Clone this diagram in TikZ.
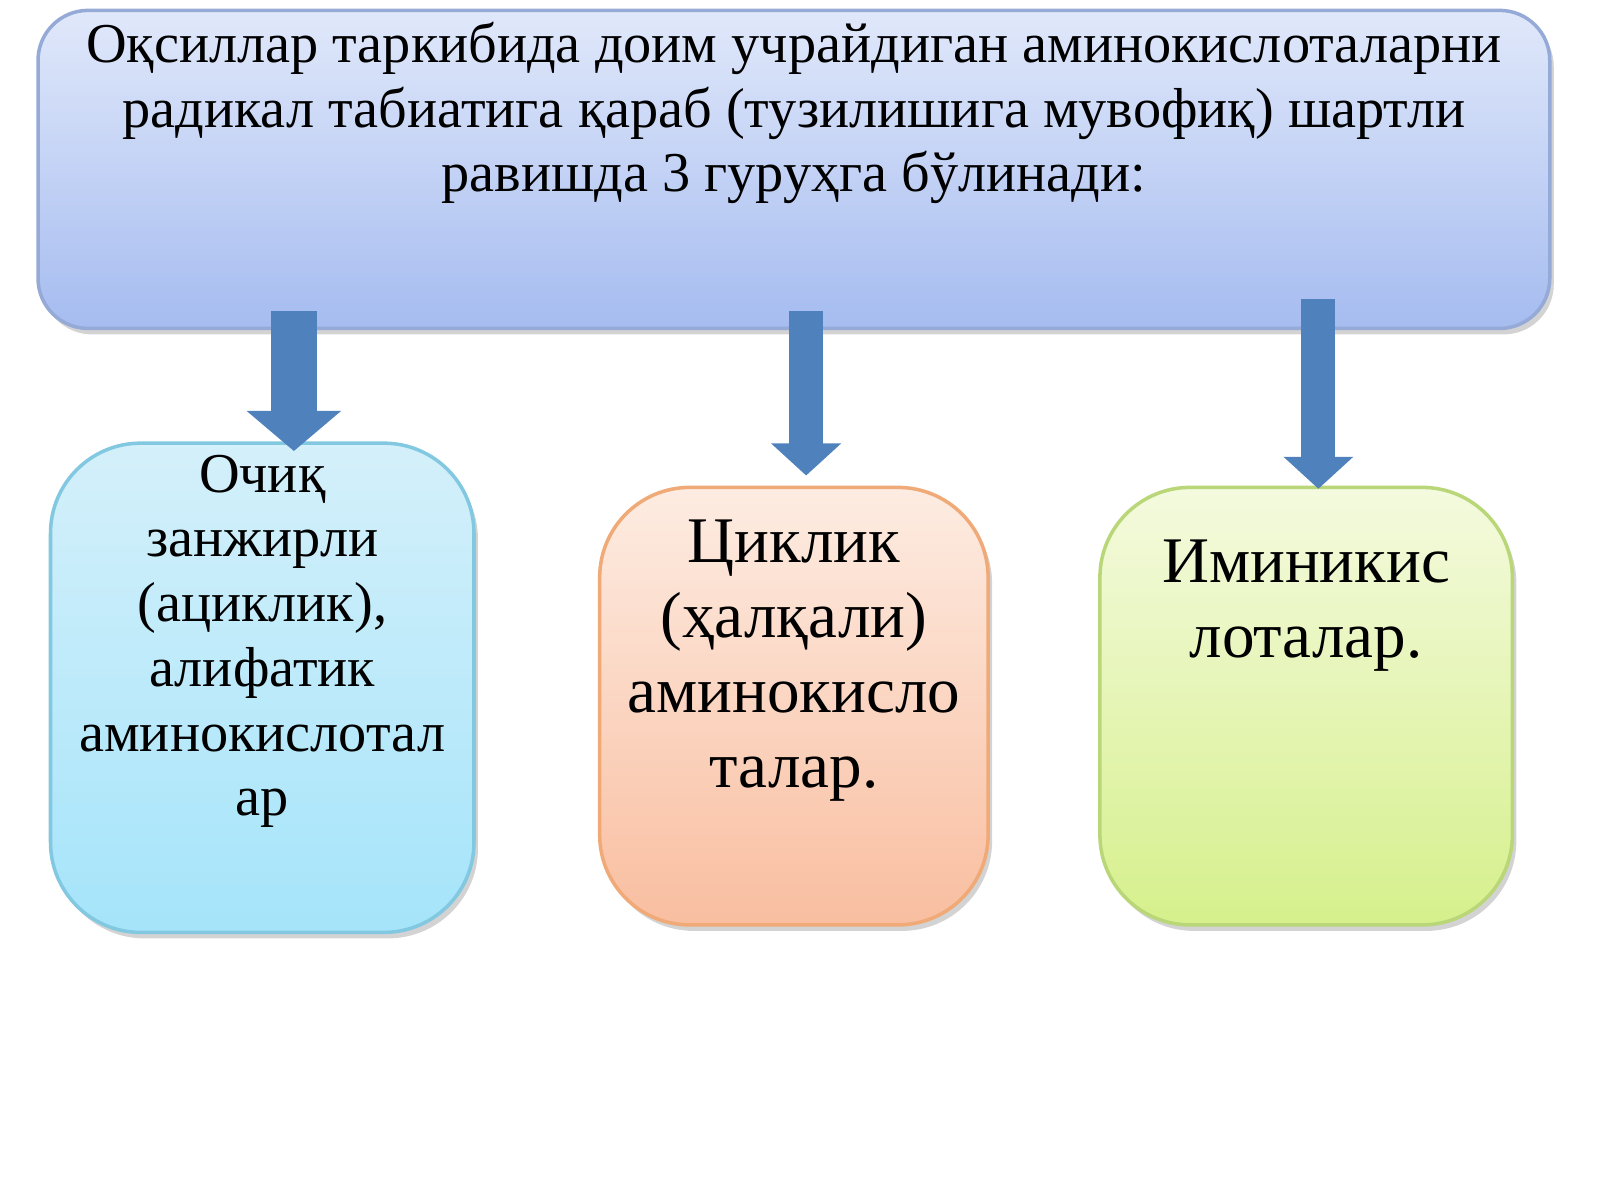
\documentclass[tikz,border=0pt]{standalone}
\usepackage{fontspec}
\setmainfont{Liberation Serif}
\usetikzlibrary{shapes,arrows.meta,positioning,calc,shadows}
\tikzstyle{groupbox} = [rectangle, rounded corners=0.9cm, align=center, line width=1pt, drop shadow={opacity=0.35,shadow xshift=0.04cm,shadow yshift=-0.06cm}]
\tikzstyle{arrow} = [line width=0.46cm, draw={rgb,255:red,79;green,129;blue,189}, -{Triangle[width=0.92cm,length=0.4cm]}]
\begin{document}
\begin{tikzpicture}[x=0.0102cm, y=-0.0102cm]
    \useasboundingbox (0,0) rectangle (1568,1176);
    % Nodes
    \node (title) [groupbox, rounded corners=0.5cm, minimum width=15.1cm, minimum height=2.37cm, top color={rgb,255:red,224;green,232;blue,250}, bottom color={rgb,255:red,166;green,188;blue,240}, draw={rgb,255:red,150;green,170;blue,215}, font=\fontsize{16}{18.4}\selectfont] at (778,166) {Оқсиллар таркибида доим учрайдиган аминокислоталарни\\радикал табиатига қараб (тузилишига мувофиқ) шартли\\равишда 3 гуруҳга бўлинади:\\[0.6cm]};
    \node (open) [groupbox, minimum width=4.23cm, minimum height=4.47cm, top color={rgb,255:red,212;green,240;blue,250}, bottom color={rgb,255:red,165;green,228;blue,250}, draw={rgb,255:red,130;green,200;blue,225}, font=\fontsize{16}{18.4}\selectfont] at (257,674) {Очиқ\\занжирли\\(ациклик),\\алифатик\\аминокислотал\\ар\\[0.4cm]};
    \node (cyclic) [groupbox, minimum width=3.88cm, minimum height=4.37cm, top color={rgb,255:red,253;green,236;blue,226}, bottom color={rgb,255:red,249;green,190;blue,160}, draw={rgb,255:red,240;green,170;blue,120}, font=\fontsize{18.5}{21.3}\selectfont] at (778,692) {Циклик\\(ҳалқали)\\аминокисло\\талар.\\[0.3cm]};
    \node (imino) [groupbox, minimum width=4.12cm, minimum height=4.37cm, top color={rgb,255:red,244;green,250;blue,222}, bottom color={rgb,255:red,214;green,240;blue,140}, draw={rgb,255:red,185;green,215;blue,120}, font=\fontsize{18.5}{21.3}\selectfont] at (1280,692) {Иминикис\\лоталар.\\[1.4cm]};

    % Arrows
    \coordinate (a1) at (288,305);
    \coordinate (b1) at (288,442);
    \coordinate (a2) at (790,305);
    \coordinate (b2) at (790,466);
    \coordinate (a3) at (1292,293);
    \coordinate (b3) at (1292,479);
    \draw [arrow] (a1) -- (b1);
    \draw [arrow, line width=0.34cm, -{Triangle[width=0.68cm,length=0.32cm]}] (a2) -- (b2);
    \draw [arrow, line width=0.34cm, -{Triangle[width=0.68cm,length=0.32cm]}] (a3) -- (b3);
\end{tikzpicture}
\end{document}
